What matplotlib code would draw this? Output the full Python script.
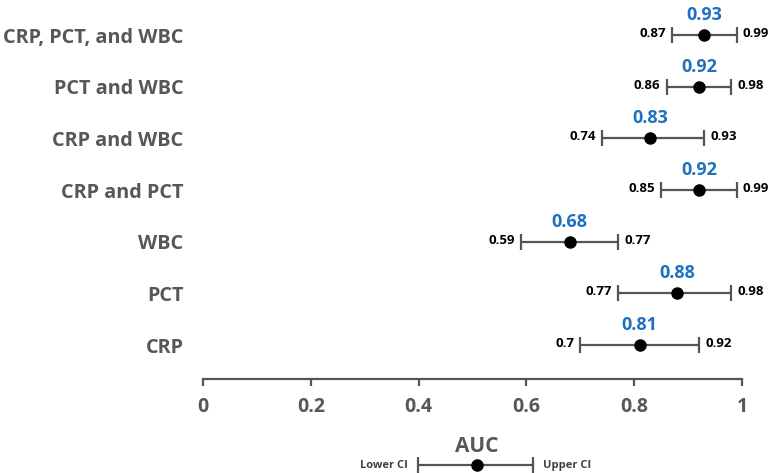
import matplotlib
matplotlib.use("Agg")
import matplotlib.pyplot as plt

# ---- data ----
categories = ["CRP", "PCT", "WBC", "CRP and PCT", "CRP and WBC",
              "PCT and WBC", "CRP, PCT, and WBC"]
auc = [0.81, 0.88, 0.68, 0.92, 0.83, 0.92, 0.93]
lower_ci = [0.70, 0.77, 0.59, 0.85, 0.74, 0.86, 0.87]
upper_ci = [0.92, 0.98, 0.77, 0.99, 0.93, 0.98, 0.99]
x_ticks = [0, 0.2, 0.4, 0.6, 0.8, 1]
x_tick_labels = ["0", "0.2", "0.4", "0.6", "0.8", "1"]

FONT = "Open Sans"
GRAY = "#575757"
LINE = "#555555"
BLUE = "#1F70C1"

W, H = 777, 473
fig = plt.figure(figsize=(W / 100, H / 100), dpi=100)

left, right = 203 / W, 742 / W
bottom = 1 - 379 / H
top = 1 - 9.2 / H
ax = fig.add_axes([left, bottom, right - left, top - bottom])

y = list(range(len(categories)))
xerr = [[a - l for a, l in zip(auc, lower_ci)], [u - a for a, u in zip(auc, upper_ci)]]
ax.errorbar(auc, y, xerr=xerr, fmt="o", color="black", markersize=8,
            ecolor=LINE, elinewidth=1.6, capsize=5.5, capthick=1.6, clip_on=False, zorder=3)

for yi, a, l, u in zip(y, auc, lower_ci, upper_ci):
    ax.annotate(f"{a:.2f}", (a, yi), xytext=(0, 14.5), textcoords="offset points",
                ha="center", va="center", color=BLUE, fontsize=13,
                fontweight="bold", family=FONT, annotation_clip=False)
    ax.annotate(f"{l:g}", (l, yi), xytext=(-4.5, 1), textcoords="offset points",
                ha="right", va="center", color="black", fontsize=9.5,
                fontweight="bold", family=FONT, annotation_clip=False)
    ax.annotate(f"{u:g}", (u, yi), xytext=(4.5, 1), textcoords="offset points",
                ha="left", va="center", color="black", fontsize=9.5,
                fontweight="bold", family=FONT, annotation_clip=False)

ax.set_xlim(0, 1)
ax.set_ylim(-0.658, 6.5)
ax.set_xticks(x_ticks)
ax.set_xticklabels(x_tick_labels, fontsize=14, fontweight="bold", family=FONT, color=GRAY)
ax.set_yticks(y)
ax.set_yticklabels(categories, fontsize=14.3, fontweight="bold", family=FONT, color=GRAY)
ax.tick_params(axis="y", length=0, pad=14)
ax.tick_params(axis="x", length=5, width=1.6, color=LINE, pad=8, direction="out")
for s in ["top", "right", "left"]:
    ax.spines[s].set_visible(False)
ax.spines["bottom"].set_color(LINE)
ax.spines["bottom"].set_linewidth(1.6)

# ---- legend key ----
lx0, lx1 = 418 / W, 533 / W
ly = 1 - 465 / H
lax = fig.add_axes([lx0, ly - 0.02, lx1 - lx0, 0.04])
lax.set_xlim(0, 1)
lax.set_ylim(-1, 1)
lax.axis("off")
lax.errorbar([0.513], [0], xerr=[[0.513], [0.487]], fmt="o", color="black",
             markersize=8, ecolor=LINE, elinewidth=1.6, capsize=5.5, capthick=1.6,
             clip_on=False)
fig.text(477 / W, 1 - 446 / H, "AUC", ha="center", va="center", fontsize=15,
         fontweight="bold", family=FONT, color=GRAY)
fig.text(408 / W, ly, "Lower CI", ha="right", va="center", fontsize=8,
         fontweight="bold", family=FONT, color="#404040")
fig.text(543 / W, ly, "Upper CI", ha="left", va="center", fontsize=8,
         fontweight="bold", family=FONT, color="#404040")

fig.savefig("out.png", dpi=100)
